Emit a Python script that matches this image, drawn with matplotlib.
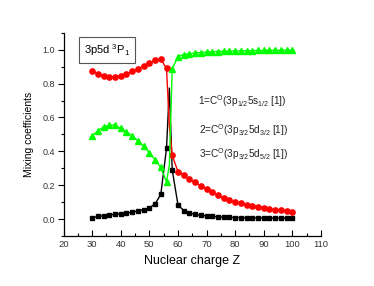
import matplotlib
matplotlib.use("Agg")
import matplotlib.pyplot as plt
from matplotlib.ticker import MultipleLocator

plt.rcParams['font.family'] = ['Liberation Sans', 'DejaVu Sans']
plt.rcParams['mathtext.fontset'] = 'custom'
plt.rcParams['mathtext.rm'] = 'Liberation Sans'
plt.rcParams['mathtext.it'] = 'Liberation Sans'

Z = [30, 32, 34, 36, 38, 40, 42, 44, 46, 48, 50, 52, 54, 56, 57,
     58, 60, 62, 64, 66, 68, 70, 72, 74, 76, 78, 80, 82, 84, 86, 88, 90, 92, 94, 96, 98, 100]

c1_red = [0.875, 0.858, 0.843, 0.838, 0.839, 0.847, 0.858, 0.872, 0.888, 0.905, 0.922, 0.937, 0.945, 0.89,
          0.55,
          0.377, 0.28, 0.258, 0.237, 0.217, 0.197, 0.178, 0.158, 0.14, 0.125, 0.112, 0.102, 0.093, 0.085,
          0.078, 0.072, 0.065, 0.06, 0.055, 0.052, 0.047, 0.043]

c2_green = [0.492, 0.521, 0.545, 0.555, 0.555, 0.535, 0.515, 0.492, 0.462, 0.43, 0.393, 0.35, 0.305, 0.22,
            0.32,
            0.887, 0.96, 0.972, 0.977, 0.981, 0.984, 0.986, 0.988, 0.99, 0.991, 0.992, 0.993, 0.994, 0.995,
            0.995, 0.996, 0.996, 0.997, 0.997, 0.998, 0.998, 0.998]

c3_black = [0.006, 0.016, 0.02, 0.024, 0.028, 0.032, 0.036, 0.04, 0.048, 0.055, 0.065, 0.09, 0.145, 0.417,
            0.774,
            0.29, 0.085, 0.05, 0.035, 0.027, 0.022, 0.018, 0.015, 0.013, 0.011, 0.01, 0.009, 0.008, 0.008,
            0.007, 0.007, 0.006, 0.006, 0.006, 0.005, 0.005, 0.005]

title_text = "3p5d $^3$P$_1$"
labels = [r"1=C$^{\mathrm{O}}$(3p$_{1/2}$5s$_{1/2}$ [1])",
          r"2=C$^{\mathrm{O}}$(3p$_{3/2}$5d$_{3/2}$ [1])",
          r"3=C$^{\mathrm{O}}$(3p$_{3/2}$5d$_{5/2}$ [1])"]

fig = plt.figure(figsize=(3.74, 2.86), dpi=100)
ax = fig.add_axes([0.17, 0.175, 0.688, 0.71])

marks = [i for i, z in enumerate(Z) if z != 57]
ax.plot(Z, c3_black, color='black', lw=1.0, marker='s', ms=3.4, markevery=marks, zorder=3)
ax.plot(Z, c1_red, color='#ff0000', lw=1.0, marker='o', ms=3.8, markevery=marks, zorder=4)
ax.plot(Z, c2_green, color='#00ff00', lw=1.0, marker='^', ms=4.2, markevery=marks, zorder=5)

ax.set_xlim(20, 110)
ax.set_ylim(-0.1, 1.1)
ax.xaxis.set_major_locator(MultipleLocator(10))
ax.xaxis.set_minor_locator(MultipleLocator(5))
ax.yaxis.set_minor_locator(MultipleLocator(0.1))
ax.yaxis.set_major_formatter(matplotlib.ticker.FormatStrFormatter('%.1f'))
ax.set_yticks([0.0, 0.2, 0.4, 0.6, 0.8, 1.0])

for s in ['top', 'right']:
    ax.spines[s].set_visible(False)
for s in ['left', 'bottom']:
    ax.spines[s].set_linewidth(0.9)

ax.tick_params(axis='x', which='major', direction='in', length=4, width=0.8, labelsize=6.8, pad=3)
ax.tick_params(axis='x', which='minor', direction='in', length=2, width=0.8)
ax.tick_params(axis='y', which='major', direction='out', length=4, width=0.8, labelsize=6.5, pad=2)
ax.tick_params(axis='y', which='minor', direction='out', length=2, width=0.8)
for lab in ax.get_xticklabels() + ax.get_yticklabels():
    lab.set_color('#333333')

ax.set_xlabel("Nuclear charge Z", fontsize=9, labelpad=4)
ax.set_ylabel("Mixing coefficients", fontsize=7.5, labelpad=6)

ax.text(0.08, 0.955, title_text, transform=ax.transAxes, fontsize=8, va='top', ha='left',
        bbox=dict(boxstyle='square,pad=0.45', fc='white', ec='#555555', lw=0.8))

ax.text(66.9, 0.694, labels[0], fontsize=7.2, va='center', ha='left', color='#222222')
ax.text(67.3, 0.525, labels[1], fontsize=7.2, va='center', ha='left', color='#222222')
ax.text(67.3, 0.381, labels[2], fontsize=7.2, va='center', ha='left', color='#222222')

fig.savefig("out.png", dpi=100)
